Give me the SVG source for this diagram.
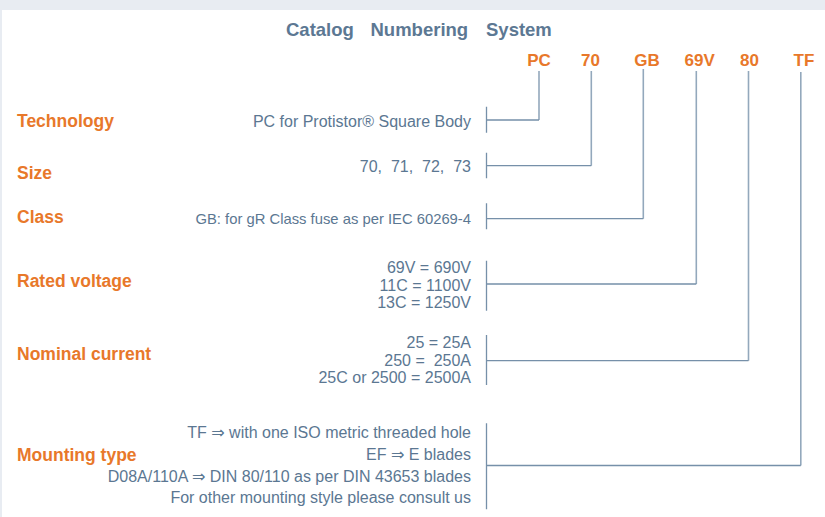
<svg xmlns="http://www.w3.org/2000/svg" width="825" height="517" viewBox="0 0 825 517">
<style>
.bg{fill:#e8ecf2}
.panel{fill:#ffffff}
.title{font-family:"Liberation Sans",Arial,sans-serif;font-weight:bold;font-size:18.5px;fill:#5c7893}
.code{font-family:"Liberation Sans",Arial,sans-serif;font-weight:bold;font-size:17px;fill:#e8782a;text-anchor:middle}
.lbl{font-family:"Liberation Sans",Arial,sans-serif;font-weight:bold;font-size:17.5px;fill:#e8782a}
.val{font-family:"Liberation Sans",Arial,"DejaVu Sans",sans-serif;font-size:16px;fill:#5b7792;text-anchor:end}
.sm{font-size:14.8px}
.ln{fill:none;stroke:#7690a9;stroke-width:1.3}
.vl{fill:none;stroke:#93a8bc;stroke-width:1.6}
</style>
<rect class="bg" x="0" y="0" width="825" height="517"/>
<rect class="panel" x="2" y="10" width="823" height="507"/>
<g id="title">
<text class="title" y="35.5"><tspan x="286">Catalog</tspan><tspan x="370.5">Numbering</tspan><tspan x="486">System</tspan></text>
</g>
<g id="codes">
<text class="code" x="539" y="65.7">PC</text>
<text class="code" x="590.5" y="65.7">70</text>
<text class="code" x="647" y="65.7">GB</text>
<text class="code" x="699.7" y="65.7">69V</text>
<text class="code" x="749.5" y="65.7">80</text>
<text class="code" x="804" y="65.7">TF</text>
</g>
<g id="technology">
<text class="lbl" x="17" y="126.7">Technology</text>
<text class="val" x="471" y="126.7">PC for Protistor® Square Body</text>
</g>
<g id="size">
<text class="lbl" x="17" y="178.5">Size</text>
<text class="val" x="471" y="171.7" xml:space="preserve">70,  71,  72,  73</text>
</g>
<g id="class">
<text class="lbl" x="17" y="222.7">Class</text>
<text class="val sm" x="471" y="224">GB: for gR Class fuse as per IEC 60269-4</text>
</g>
<g id="rated-voltage">
<text class="lbl" x="17" y="286.7">Rated voltage</text>
<text class="val" x="471" y="273.3">69V = 690V</text>
<text class="val" x="471" y="290.8">11C = 1100V</text>
<text class="val" x="471" y="308.3">13C = 1250V</text>
</g>
<g id="nominal-current">
<text class="lbl" x="17" y="360">Nominal current</text>
<text class="val" x="471" y="348.3">25 = 25A</text>
<text class="val" x="471" y="365.8" xml:space="preserve">250 =  250A</text>
<text class="val" x="471" y="383.3">25C or 2500 = 2500A</text>
</g>
<g id="mounting-type">
<text class="lbl" x="17" y="461">Mounting type</text>
<text class="val" x="471" y="438.3">TF ⇒ with one ISO metric threaded hole</text>
<text class="val" x="471" y="460">EF ⇒ E blades</text>
<text class="val" x="471" y="481.7">D08A/110A ⇒ DIN 80/110 as per DIN 43653 blades</text>
<text class="val" x="471" y="503.3">For other mounting style please consult us</text>
</g>
<g id="connectors">
<path class="vl" d="M539 71V120"/>
<path class="ln" d="M486.5 106.7V132.7M486.5 120H539"/>
<path class="vl" d="M591.3 71V165.7"/>
<path class="ln" d="M486.5 152.7V178.3M486.5 165.7H591.3"/>
<path class="vl" d="M643.3 69V218.7"/>
<path class="ln" d="M486.5 203.3V229.3M486.5 218.7H643.3"/>
<path class="vl" d="M696.3 71V284"/>
<path class="ln" d="M486.5 260.7V310.7M486.5 284H696.3"/>
<path class="vl" d="M748.5 71V360.7"/>
<path class="ln" d="M486.5 335V385M486.5 360.7H748.5"/>
<path class="vl" d="M800.8 72V465.5"/>
<path class="ln" d="M486.5 423.3V509.3M486.5 465.5H800.8"/>
</g>
</svg>
